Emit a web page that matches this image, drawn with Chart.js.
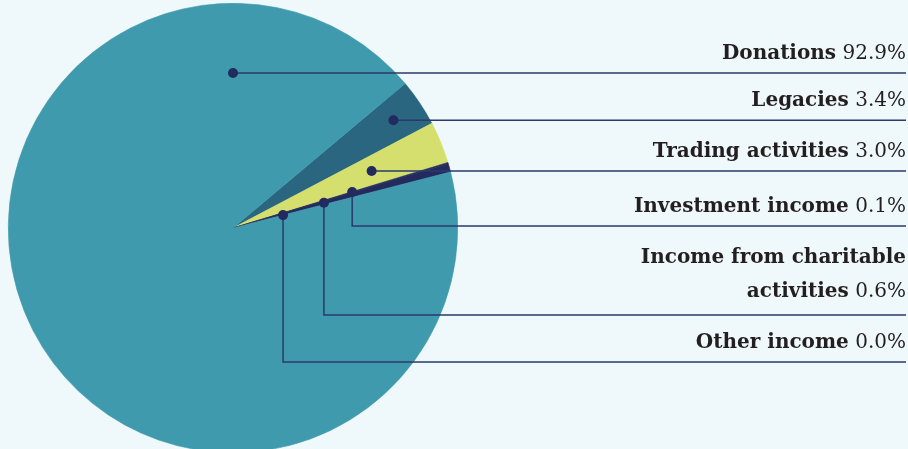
<!DOCTYPE html>
<html>
<head>
<meta charset="utf-8">
<script src="https://cdn.jsdelivr.net/npm/chart.js@4/dist/chart.umd.min.js"></script>
<style>
  html, body { margin: 0; padding: 0; background: #eff8fa; overflow: hidden; }
  #wrap { position: relative; width: 908px; height: 449px; overflow: hidden; }
  #wrap canvas { position: absolute; left: 0; top: 0; }
</style>
</head>
<body>
<div id="wrap"><canvas id="c" width="908" height="460" style="width:908px;height:460px"></canvas></div>
<script>
// ---- data ----
const categories = ["Legacies", "Trading activities", "Investment income", "Income from charitable activities", "Other income", "Donations"];
const values = [3.4, 3.0, 0.1, 0.6, 0.0, 92.9];
const valueLabels = ["3.4%", "3.0%", "0.1%", "0.6%", "0.0%", "92.9%"];
const labelLines = [["Legacies"], ["Trading activities"], ["Investment income"], ["Income from charitable", "activities"], ["Other income"], ["Donations"]];

// ---- styles / layout ----
const colors = ["#2a6680", "#d5df6e", "#232b5e", "#232b5e", "#232b5e", "#3f9aad"];
// dot anchor: angle (deg, null = slice middle) and radius fraction
const anchors = [
  {angle: null, r: 0.86},
  {angle: null, r: 0.667},
  {angle: null, r: 0.554},
  {angle: null, r: 0.42},
  {angle: null, r: 0.23},
  {angle: -90, r: 0.69}
];
// leader line y (null = at dot), text gap above line
const leaderY = [null, null, 226, 315, 362, null];
const textGap = [14, 14, 14, 18, 14, 14];
const lineEndX = 906;
const FONT = '"DejaVu Serif", serif';
const FS = 20;

const leaderPlugin = {
  id: 'leaders',
  afterDraw(chart) {
    const ctx = chart.ctx;
    const meta = chart.getDatasetMeta(0);
    ctx.save();
    meta.data.forEach((arc, i) => {
      const p = arc.getProps(['x', 'y', 'startAngle', 'endAngle', 'outerRadius'], true);
      const a = anchors[i];
      const ang = a.angle === null ? (p.startAngle + p.endAngle) / 2 : a.angle * Math.PI / 180;
      const dx = p.x + Math.cos(ang) * p.outerRadius * a.r;
      const dy = p.y + Math.sin(ang) * p.outerRadius * a.r;
      const ly = leaderY[i] === null ? dy : leaderY[i];
      ctx.strokeStyle = '#2b3a6b';
      ctx.lineWidth = 1.5;
      ctx.beginPath();
      ctx.moveTo(dx, dy);
      ctx.lineTo(dx, ly);
      ctx.lineTo(lineEndX, ly);
      ctx.stroke();
      ctx.fillStyle = '#232b5e';
      ctx.beginPath();
      ctx.arc(dx, dy, 5, 0, Math.PI * 2);
      ctx.fill();
      // text
      const lines = labelLines[i];
      const n = lines.length;
      ctx.fillStyle = '#231f20';
      ctx.textBaseline = 'alphabetic';
      ctx.textAlign = 'left';
      for (let k = 0; k < n; k++) {
        const by = ly - textGap[i] - (n - 1 - k) * 34;
        const bold = lines[k];
        const reg = k === n - 1 ? ' ' + valueLabels[i] : '';
        ctx.font = 'bold ' + FS + 'px ' + FONT;
        const wb = ctx.measureText(bold).width;
        ctx.font = FS + 'px ' + FONT;
        const wr = ctx.measureText(reg).width;
        let x = lineEndX - wb - wr;
        ctx.font = 'bold ' + FS + 'px ' + FONT;
        ctx.fillText(bold, x, by);
        ctx.font = FS + 'px ' + FONT;
        ctx.fillText(reg, x + wb, by);
      }
    });
    ctx.restore();
  }
};

new Chart(document.getElementById('c'), {
  type: 'pie',
  data: {
    labels: categories,
    datasets: [{
      data: values,
      backgroundColor: colors,
      borderColor: colors,
      borderWidth: 0.6
    }]
  },
  options: {
    responsive: false,
    animation: false,
    rotation: 50,
    layout: { padding: { left: 8, top: 3, right: 450, bottom: 7 } },
    plugins: { legend: { display: false }, tooltip: { enabled: false } }
  },
  plugins: [leaderPlugin]
});
</script>
</body>
</html>
